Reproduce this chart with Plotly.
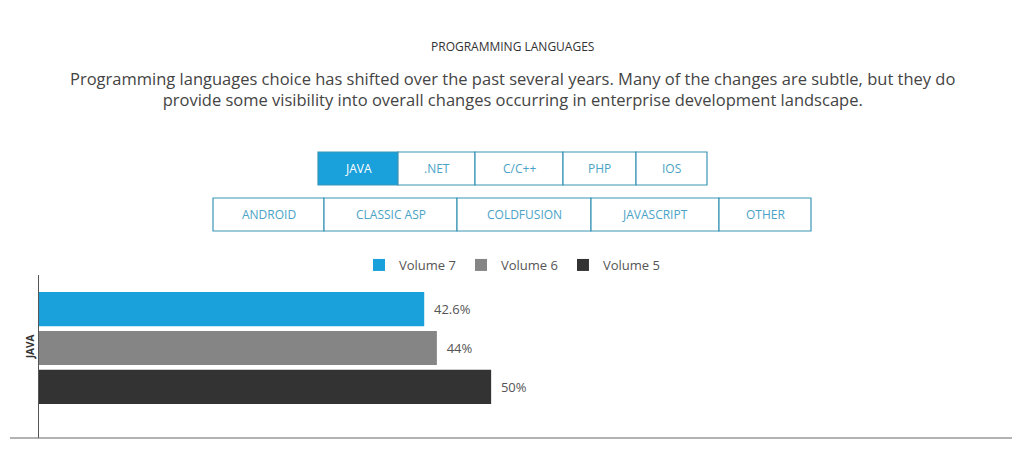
import plotly.graph_objects as go

categories = ["JAVA"]
series = ["Volume 5", "Volume 6", "Volume 7"]
values = {"Volume 7": [42.6], "Volume 6": [44], "Volume 5": [50]}
labels = {"Volume 7": ["42.6%"], "Volume 6": ["44%"], "Volume 5": ["50%"]}
colors = {"Volume 7": "#1aa0da", "Volume 6": "#858585", "Volume 5": "#333333"}
row1 = ["JAVA", ".NET", "C/C++", "PHP", "IOS"]
row2 = ["ANDROID", "CLASSIC ASP", "COLDFUSION", "JAVASCRIPT", "OTHER"]

OFF = 8  # body margin of the page
W, H = 1024, 451
L, R, T, B = 39 - OFF, 12 + OFF, 275 - OFF, 13 + OFF
pw, ph = W - L - R, H - T - B
def px(x): return (x - OFF - L) / pw
def py(y): return (H - B - (y - OFF)) / ph

fig = go.Figure()
for s in series:
    fig.add_bar(y=categories, x=values[s], name=s, orientation="h",
                marker=dict(color=colors[s], line=dict(width=0)),
                text=labels[s], texttemplate="  %{text}", textposition="outside",
                cliponaxis=False, textfont=dict(size=13, color="#555"))

shapes, ann = [], []
def buttons(names, edges, y0, y1, active=None):
    for i, n in enumerate(names):
        a, b = edges[i], edges[i+1]
        fill = "#1aa0da" if n == active else "white"
        shapes.append(dict(type="rect", xref="paper", yref="paper", x0=px(a), x1=px(b),
                           y0=py(y1), y1=py(y0), fillcolor=fill,
                           line=dict(color="#3a95b5", width=1.2), layer="above"))
        ann.append(dict(x=px((a+b)/2), y=py((y0+y1)/2), xref="paper", yref="paper",
                        xanchor="center", yanchor="middle", text=n, showarrow=False,
                        font=dict(size=12, color="white" if n == active else "#4aa3c6",
                                  family="Open Sans")))
buttons(row1, [318, 398, 475, 563, 636, 707], 152, 185, active="JAVA")
buttons(row2, [213, 324, 457, 591, 719, 811], 198, 231)
shapes.append(dict(type="line", xref="paper", yref="paper", x0=px(10), x1=px(1012),
                   y0=0, y1=0, line=dict(color="#666", width=1)))
ann.append(dict(x=px(512), xref="paper", y=py(46), yref="paper", text="PROGRAMMING LANGUAGES",
                xanchor="center", yanchor="middle",
                showarrow=False, font=dict(size=12, color="#333")))
ann.append(dict(x=px(512), xref="paper", y=py(89), yref="paper",
                xanchor="center", yanchor="middle",
                text="Programming languages choice has shifted over the past several years. Many of the changes are subtle, but they do<br>provide some visibility into overall changes occurring in enterprise development landscape.",
                showarrow=False, font=dict(size=16.5, color="#444")))

fig.update_layout(
    width=W, height=H, margin=dict(l=L, r=R, t=T, b=B),
    paper_bgcolor="white", plot_bgcolor="white",
    font=dict(family="Open Sans", color="#444"),
    barmode="group", bargap=0.0, bargroupgap=0.12,
    showlegend=True,
    legend=dict(orientation="h", x=px(512), xanchor="center", y=py(265), yanchor="middle",
                traceorder="reversed", font=dict(size=13, color="#555"),
                itemwidth=30),
    shapes=shapes, annotations=ann,
    xaxis=dict(range=[0, 107.6], showgrid=False, showticklabels=False, zeroline=False),
    yaxis=dict(type="category", range=[-0.773, 0.627], showline=True, linecolor="#555",
               linewidth=1, ticks="", tickangle=-90,
               tickfont=dict(size=10, color="#333", family="Open Sans", weight=700)),
)
fig.write_html("out.html")
